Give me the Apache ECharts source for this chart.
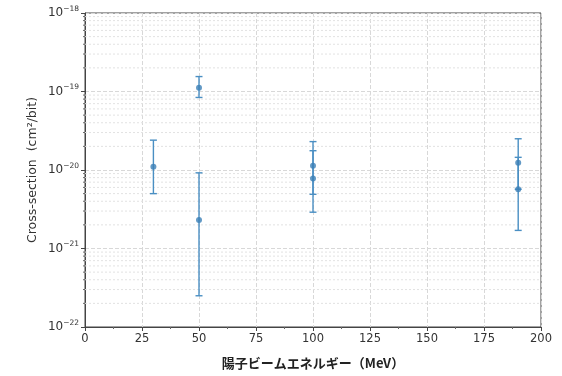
<!DOCTYPE html>
<html>
<head>
<meta charset="utf-8">
<script src="https://cdn.jsdelivr.net/npm/echarts@6/dist/echarts.min.js"></script>
<style>html,body{margin:0;padding:0;background:#fff}#c{width:562px;height:376px}</style>
</head>
<body>
<div id="c"></div>
<script>
const energies = [30, 50, 50, 100, 100, 190, 190];
const crossSections = [1.1e-20, 1.12e-19, 2.3e-21, 1.13e-20, 7.8e-21, 1.24e-20, 5.7e-21];
const errorUpper = [2.4e-20, 1.55e-19, 9.2e-21, 2.3e-20, 1.76e-20, 2.5e-20, 1.45e-20];
const errorLower = [5.0e-21, 8.4e-20, 2.5e-22, 4.9e-21, 2.9e-21, 5.7e-21, 1.7e-21];
const yExponents = [-22, -21, -20, -19, -18];
const xTickValues = [0, 25, 50, 75, 100, 125, 150, 175, 200];

const minorValues = [];
for (let d = yExponents[0]; d < yExponents[yExponents.length - 1]; d++) {
  for (let k = 2; k <= 9; k++) minorValues.push(k * Math.pow(10, d));
}

const pointData = energies.map((e, i) => [e, crossSections[i]]);
const errData = energies.map((e, i) => [e, errorLower[i], errorUpper[i]]);

const chart = echarts.init(document.getElementById('c'), null, {renderer: 'canvas', width: 562, height: 376});
const barColor = '#4a8fc3';
const font = 'DejaVu Sans';

function yLabel(v) {
  const l = Math.log10(v);
  const r = Math.round(l);
  if (Math.abs(l - r) > 1e-9 || yExponents.indexOf(r) < 0) return '';
  return '10{sup|\u2212' + Math.abs(r) + '}';
}

chart.setOption({
  animation: false,
  grid: {left: 85, right: 21, top: 13, bottom: 49, show: true, borderColor: '#444', borderWidth: 1, outerBoundsMode: 'none', containLabel: false},
  xAxis: {
    type: 'value', min: xTickValues[0], max: xTickValues[xTickValues.length - 1], interval: 25,
    axisLine: {show: true, lineStyle: {color: '#444'}},
    axisTick: {show: true, inside: false, length: 4, lineStyle: {color: '#444'}},
    minorTick: {show: true, splitNumber: 2, length: 2, lineStyle: {color: '#666'}},
    axisLabel: {color: '#333', fontFamily: font, fontSize: 11.5, margin: 6, showMinLabel: true, showMaxLabel: true},
    splitLine: {show: true, lineStyle: {color: '#d8d8d8', type: 'dashed', width: 1}},
    name: '陽子ビームエネルギー（MeV）',
    nameLocation: 'middle', nameGap: 30, nameMoveOverlap: false,
    nameTextStyle: {fontFamily: 'Noto Sans CJK JP', fontWeight: 'bold', fontSize: 13, color: '#222'}
  },
  yAxis: {
    type: 'log', logBase: 10, min: 0.99999e-22, max: 1e-18,
    axisLine: {show: true, lineStyle: {color: '#444'}},
    axisTick: {show: true, length: 4, lineStyle: {color: '#444'}},
    axisLabel: {
      color: '#333', fontFamily: font, fontSize: 12, margin: 6,
      showMinLabel: true, showMaxLabel: true, hideOverlap: false,
      formatter: yLabel,
      rich: {sup: {fontSize: 7.5, fontFamily: font, color: '#333', verticalAlign: 'top', padding: [0, 0, 8, 0]}}
    },
    splitLine: {show: true, lineStyle: {color: '#d8d8d8', type: 'dashed', width: 1}},
    name: 'Cross-section  (cm²/bit)',
    nameLocation: 'middle', nameGap: 46, nameRotate: 90, nameMoveOverlap: false,
    nameTextStyle: {fontFamily: font, fontSize: 12.5, color: '#333'}
  },
  series: [
    {
      type: 'custom', silent: true, z: 1,
      encode: {x: 0, y: 1},
      data: minorValues.map(v => [0, v]),
      renderItem: (params, api) => {
        const v = api.value(1);
        const a = api.coord([0, v]);
        const b = api.coord([200, v]);
        return {type: 'group', children: [
          {type: 'line', shape: {x1: a[0], y1: a[1], x2: b[0], y2: b[1]},
           style: {stroke: '#e2e2e2', lineWidth: 1, lineDash: [2, 2]}},
          {type: 'line', shape: {x1: a[0] - 2, y1: a[1], x2: a[0], y2: a[1]},
           style: {stroke: '#666', lineWidth: 1}}
        ]};
      }
    },
    {
      type: 'custom', z: 3,
      encode: {x: 0, y: [1, 2]},
      data: errData,
      renderItem: (params, api) => {
        const x = api.value(0);
        const lo = api.coord([x, api.value(1)]);
        const hi = api.coord([x, api.value(2)]);
        const w = 3.5;
        const st = {stroke: barColor, lineWidth: 1.4};
        return {type: 'group', children: [
          {type: 'line', shape: {x1: lo[0], y1: lo[1], x2: hi[0], y2: hi[1]}, style: st},
          {type: 'line', shape: {x1: lo[0] - w, y1: lo[1], x2: lo[0] + w, y2: lo[1]}, style: st},
          {type: 'line', shape: {x1: hi[0] - w, y1: hi[1], x2: hi[0] + w, y2: hi[1]}, style: st}
        ]};
      }
    },
    {
      type: 'scatter', z: 4, symbol: 'circle', symbolSize: 6,
      itemStyle: {color: '#3b7fb6'},
      data: pointData
    }
  ]
});
</script>
</body>
</html>
